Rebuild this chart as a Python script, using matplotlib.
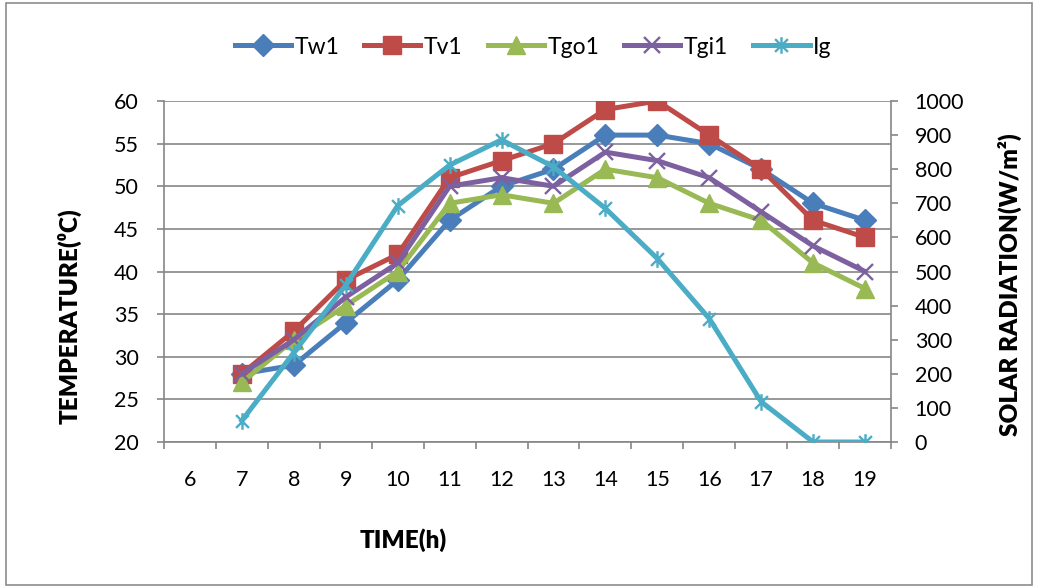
import matplotlib
matplotlib.use("Agg")
import matplotlib.pyplot as plt
from matplotlib.path import Path
from matplotlib.ticker import MultipleLocator, FixedLocator

plt.rcParams['font.family'] = ['Lato', 'DejaVu Sans']

categories = [6, 7, 8, 9, 10, 11, 12, 13, 14, 15, 16, 17, 18, 19]
hours = [7, 8, 9, 10, 11, 12, 13, 14, 15, 16, 17, 18, 19]
Tw1 = [28, 29, 34, 39, 46, 50, 52, 56, 56, 55, 52, 48, 46]
Tv1 = [28, 33, 39, 42, 51, 53, 55, 59, 60, 56, 52, 46, 44]
Tgo1 = [27, 32, 36, 40, 48, 49, 48, 52, 51, 48, 46, 41, 38]
Tgi1 = [28, 32, 37, 41, 50, 51, 50, 54, 53, 51, 47, 43, 40]
Ig = [63, 262, 460, 693, 812, 886, 807, 685, 538, 362, 118, 0, 0]

W, H = 1038, 588
fig = plt.figure(figsize=(W / 100, H / 100), dpi=100)
fig.patch.set_facecolor('white')

# outer frame
frame = plt.Rectangle((6 / W, 3 / H), (1032 - 6) / W, (585 - 3) / H,
                      transform=fig.transFigure, fill=False,
                      edgecolor='#8c8c8c', linewidth=1.2)
fig.patches.append(frame)

L, R, T, B = 164, 891, 101, 442
ax = fig.add_axes([L / W, 1 - B / H, (R - L) / W, (B - T) / H])
ax2 = ax.twinx()

grey = '#868686'
lw = 3.6

ax.set_xlim(5.5, 19.5)
ax.set_ylim(20, 60)
ax2.set_ylim(0, 1000)

ax.yaxis.set_major_locator(MultipleLocator(5))
ax2.yaxis.set_major_locator(MultipleLocator(100))
ax.xaxis.set_major_locator(FixedLocator(categories))
ax.set_xticklabels([str(c) for c in categories])
ax.xaxis.set_minor_locator(FixedLocator([c + 0.5 for c in [5] + categories]))

ax.grid(axis='y', color=grey, linewidth=1.2, zorder=0)
ax.set_axisbelow(True)

for a in (ax, ax2):
    for s in a.spines.values():
        s.set_visible(False)
ax.spines['left'].set_visible(True)
ax.spines['bottom'].set_visible(True)
ax2.spines['right'].set_visible(True)
for s in (ax.spines['left'], ax.spines['bottom'], ax2.spines['right']):
    s.set_color(grey)
    s.set_linewidth(1.2)

fs = 15.5
ax.tick_params(axis='y', which='major', length=5, width=1.2, color=grey,
               pad=13, labelsize=fs, direction='out')
ax2.tick_params(axis='y', which='major', length=5, width=1.2, color=grey,
                pad=12, labelsize=fs, direction='out')
ax.tick_params(axis='x', which='major', length=0, pad=20, labelsize=fs)
ax.tick_params(axis='x', which='minor', length=5, width=1.2, color=grey,
               direction='out')

star = Path([(-1, -1), (1, 1), (-1, 1), (1, -1), (0, -1.3), (0, 1.3)],
            [Path.MOVETO, Path.LINETO, Path.MOVETO, Path.LINETO,
             Path.MOVETO, Path.LINETO])

c_tw, c_tv, c_go, c_gi, c_ig = '#4A7EBB', '#BE4B48', '#98B954', '#7D60A0', '#4BACC6'

h1, = ax.plot(hours, Tw1, color=c_tw, lw=lw, marker='D', ms=11.5,
              mfc=c_tw, mec=c_tw, label='Tw1', zorder=3)
h2, = ax.plot(hours, Tv1, color=c_tv, lw=lw, marker='s', ms=12.5,
              mfc=c_tv, mec=c_tv, label='Tv1', zorder=3)
h3, = ax.plot(hours, Tgo1, color=c_go, lw=lw, marker='^', ms=13,
              mfc=c_go, mec=c_go, label='Tgo1', zorder=3)
h4, = ax.plot(hours, Tgi1, color=c_gi, lw=lw, marker='x', ms=12, mew=1.7,
              mec=c_gi, label='Tgi1', zorder=3)
h5, = ax2.plot(hours, Ig, color=c_ig, lw=lw, marker=star, ms=12, mew=1.7,
               mec=c_ig, label='Ig', zorder=3)

leg = fig.legend(handles=[h1, h2, h3, h4, h5], loc='center', ncol=5,
                 bbox_to_anchor=(533 / W, 1 - 47 / H), frameon=False,
                 fontsize=16.5, handlelength=2.45, columnspacing=1.1,
                 handletextpad=0.15, borderpad=0.2)

fig.text(70 / W, 1 - 316 / H, 'TEMPERATURE(\u2070C)', rotation=90,
         ha='center', va='center', fontsize=17.5, fontweight='heavy')
fig.text(1010 / W, 1 - 285 / H, 'SOLAR RADIATION(W/m\u00b2)', rotation=90,
         ha='center', va='center', fontsize=17.5, fontweight='heavy')
fig.text(403 / W, 1 - 540 / H, 'TIME(h)', ha='center', va='center',
         fontsize=17.5, fontweight='heavy')

fig.savefig('out.png', dpi=100, facecolor='white')
